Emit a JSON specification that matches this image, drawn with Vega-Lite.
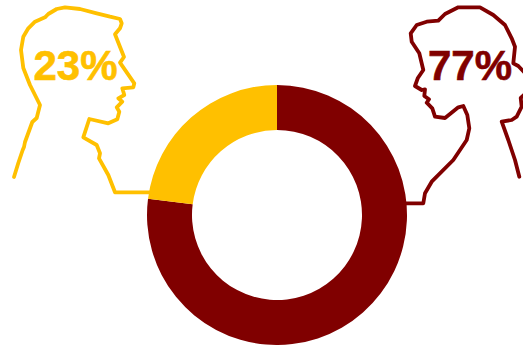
{
 "$schema":"https://vega.github.io/schema/vega-lite/v6.json",
 "autosize":{"type":"none"},
 "width":523,"height":345,"padding":0,
 "background":"white",
 "view":{"stroke":null},
 "datasets":{
  "shares":[{"group":"Women","label":"77%","share":77,"rank":1,"cx":277,"cy":215,"lx":470,"ly":80},{"group":"Men","label":"23%","share":23,"rank":2,"cx":277,"cy":215,"lx":75.5,"ly":80}],
  "outlines":[
{"group":"Men","part":"m","seq":1,"x":14,"y":177},{"group":"Men","part":"m","seq":2,"x":18.3,"y":163},{"group":"Men","part":"m","seq":3,"x":22.7,"y":150},{"group":"Men","part":"m","seq":4,"x":24,"y":147},{"group":"Men","part":"m","seq":5,"x":25,"y":142},{"group":"Men","part":"m","seq":6,"x":32.3,"y":122},{"group":"Men","part":"m","seq":7,"x":36.7,"y":118},{"group":"Men","part":"m","seq":8,"x":40,"y":105},{"group":"Men","part":"m","seq":9,"x":30,"y":85},{"group":"Men","part":"m","seq":10,"x":23.3,"y":68},{"group":"Men","part":"m","seq":11,"x":21,"y":50},{"group":"Men","part":"m","seq":12,"x":23.3,"y":36.7},{"group":"Men","part":"m","seq":13,"x":28.3,"y":28.3},{"group":"Men","part":"m","seq":14,"x":35,"y":21.7},{"group":"Men","part":"m","seq":15,"x":45,"y":17.3},{"group":"Men","part":"m","seq":16,"x":48.3,"y":14},{"group":"Men","part":"m","seq":17,"x":56.7,"y":9},{"group":"Men","part":"m","seq":18,"x":65,"y":7.3},{"group":"Men","part":"m","seq":19,"x":80,"y":9},{"group":"Men","part":"m","seq":20,"x":96.7,"y":13.3},{"group":"Men","part":"m","seq":21,"x":110,"y":16.7},{"group":"Men","part":"m","seq":22,"x":120,"y":19},{"group":"Men","part":"m","seq":23,"x":121.7,"y":23.3},{"group":"Men","part":"m","seq":24,"x":120,"y":28.3},{"group":"Men","part":"m","seq":25,"x":115,"y":34.3},{"group":"Men","part":"m","seq":26,"x":124,"y":57},{"group":"Men","part":"m","seq":27,"x":120,"y":62.7},{"group":"Men","part":"m","seq":28,"x":134.3,"y":83.3},{"group":"Men","part":"m","seq":29,"x":133.3,"y":87.3},{"group":"Men","part":"m","seq":30,"x":122.3,"y":88.3},{"group":"Men","part":"m","seq":31,"x":124.3,"y":95},{"group":"Men","part":"m","seq":32,"x":118.3,"y":98.3},{"group":"Men","part":"m","seq":33,"x":122.3,"y":101.7},{"group":"Men","part":"m","seq":34,"x":116.7,"y":107.3},{"group":"Men","part":"m","seq":35,"x":119.3,"y":111.7},{"group":"Men","part":"m","seq":36,"x":117.3,"y":119.3},{"group":"Men","part":"m","seq":37,"x":108.3,"y":123.3},{"group":"Men","part":"m","seq":38,"x":89.3,"y":119},{"group":"Men","part":"m","seq":39,"x":83.3,"y":137.3},{"group":"Men","part":"m","seq":40,"x":96.7,"y":145},{"group":"Men","part":"m","seq":41,"x":100,"y":153.3},{"group":"Men","part":"m","seq":42,"x":99,"y":158.3},{"group":"Men","part":"m","seq":43,"x":108.3,"y":175},{"group":"Men","part":"m","seq":44,"x":115,"y":192.3},{"group":"Men","part":"m","seq":45,"x":150,"y":192.3},
{"group":"Women","part":"w1","seq":1,"x":406,"y":203.3},{"group":"Women","part":"w1","seq":2,"x":423.3,"y":203.3},{"group":"Women","part":"w1","seq":3,"x":425,"y":193.3},{"group":"Women","part":"w1","seq":4,"x":431.7,"y":181.7},{"group":"Women","part":"w1","seq":5,"x":453.3,"y":160},{"group":"Women","part":"w1","seq":6,"x":466.7,"y":140},{"group":"Women","part":"w1","seq":7,"x":469.3,"y":128.3},{"group":"Women","part":"w1","seq":8,"x":467.3,"y":115},{"group":"Women","part":"w1","seq":9,"x":463.3,"y":106},{"group":"Women","part":"w1","seq":10,"x":458.3,"y":107.3},{"group":"Women","part":"w1","seq":11,"x":445,"y":118},{"group":"Women","part":"w1","seq":12,"x":435,"y":116.7},{"group":"Women","part":"w1","seq":13,"x":432.3,"y":108.3},{"group":"Women","part":"w1","seq":14,"x":426.7,"y":102.7},{"group":"Women","part":"w1","seq":15,"x":429,"y":99.3},{"group":"Women","part":"w1","seq":16,"x":424.3,"y":96},{"group":"Women","part":"w1","seq":17,"x":425,"y":89.3},{"group":"Women","part":"w1","seq":18,"x":421.7,"y":90},{"group":"Women","part":"w1","seq":19,"x":415,"y":86},{"group":"Women","part":"w1","seq":20,"x":417.7,"y":78.3},{"group":"Women","part":"w1","seq":21,"x":423.3,"y":70},{"group":"Women","part":"w1","seq":22,"x":419.3,"y":53.3},{"group":"Women","part":"w1","seq":23,"x":411.7,"y":41.7},{"group":"Women","part":"w1","seq":24,"x":410.7,"y":33.3},{"group":"Women","part":"w1","seq":25,"x":416.7,"y":25},{"group":"Women","part":"w1","seq":26,"x":426.7,"y":21.7},{"group":"Women","part":"w1","seq":27,"x":438.3,"y":20.7},{"group":"Women","part":"w1","seq":28,"x":445,"y":14},{"group":"Women","part":"w1","seq":29,"x":458.3,"y":7.3},{"group":"Women","part":"w1","seq":30,"x":480,"y":7.3},{"group":"Women","part":"w1","seq":31,"x":493.3,"y":15},{"group":"Women","part":"w1","seq":32,"x":505,"y":25},{"group":"Women","part":"w1","seq":33,"x":511.7,"y":38.3},{"group":"Women","part":"w1","seq":34,"x":515,"y":46.7},{"group":"Women","part":"w1","seq":35,"x":513.3,"y":63.3},{"group":"Women","part":"w1","seq":36,"x":518.3,"y":66},{"group":"Women","part":"w1","seq":37,"x":524,"y":72},
{"group":"Women","part":"w2","seq":1,"x":524,"y":95},{"group":"Women","part":"w2","seq":2,"x":520.7,"y":98},{"group":"Women","part":"w2","seq":3,"x":521.7,"y":106.7},{"group":"Women","part":"w2","seq":4,"x":516.7,"y":116.7},{"group":"Women","part":"w2","seq":5,"x":511.7,"y":120},{"group":"Women","part":"w2","seq":6,"x":501.7,"y":121.7},{"group":"Women","part":"w2","seq":7,"x":508.3,"y":140},{"group":"Women","part":"w2","seq":8,"x":515,"y":160},{"group":"Women","part":"w2","seq":9,"x":519.3,"y":176.7}
  ]
 },
 "layer":[
  {"data":{"name":"outlines"},
   "mark":{"type":"line","strokeWidth":3.8,"strokeCap":"round","strokeJoin":"round","clip":true},
   "encoding":{
    "x":{"field":"x","type":"quantitative","scale":{"domain":[0,523],"nice":false},"axis":null},
    "y":{"field":"y","type":"quantitative","scale":{"domain":[345,0],"nice":false},"axis":null},
    "detail":{"field":"part"},
    "order":{"field":"seq"},
    "color":{"field":"group","type":"nominal","scale":{"domain":["Men","Women"],"range":["#FFC000","#800000"]},"legend":null}
   }},
  {"data":{"name":"shares"},
   "mark":{"type":"arc","outerRadius":130,"innerRadius":85},
   "encoding":{
    "x":{"field":"cx","type":"quantitative","scale":{"domain":[0,523],"nice":false},"axis":null},
    "y":{"field":"cy","type":"quantitative","scale":{"domain":[345,0],"nice":false},"axis":null},
    "theta":{"field":"share","type":"quantitative","stack":true,"scale":{"domain":[0,100]}},
    "order":{"field":"rank"},
    "color":{"field":"group","type":"nominal","scale":{"domain":["Men","Women"],"range":["#FFC000","#800000"]},"legend":null}
   }},
  {"data":{"name":"shares"},
   "mark":{"type":"text","font":"Liberation Sans","fontWeight":"bold","fontSize":42,"align":"center","baseline":"alphabetic","strokeWidth":0.6},
   "encoding":{
    "x":{"field":"lx","type":"quantitative","scale":{"domain":[0,523],"nice":false},"axis":null},
    "y":{"field":"ly","type":"quantitative","scale":{"domain":[345,0],"nice":false},"axis":null},
    "text":{"field":"label"},
    "color":{"field":"group","type":"nominal","scale":{"domain":["Men","Women"],"range":["#FFC000","#800000"]},"legend":null},
    "stroke":{"field":"group","type":"nominal","scale":{"domain":["Men","Women"],"range":["#FFC000","#800000"]},"legend":null}
   }}
 ]
}
